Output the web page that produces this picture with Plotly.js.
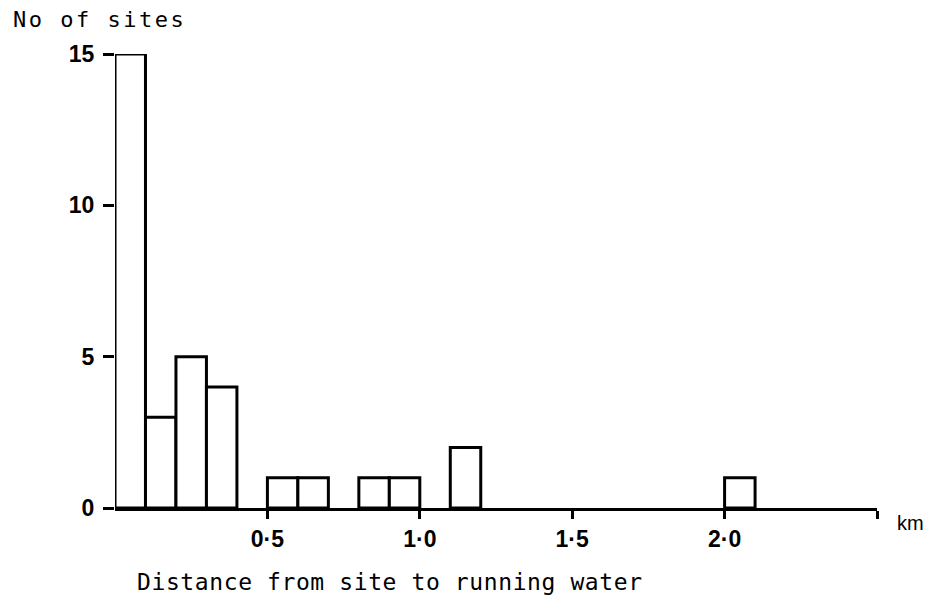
<!DOCTYPE html>
<html>
<head>
<meta charset="utf-8">
<script src="https://cdn.plot.ly/plotly-3.0.1.min.js"></script>
<style>html,body{margin:0;padding:0;background:#fff;}#chart{width:927px;height:602px;}</style>
</head>
<body>
<div id="chart"></div>
<script>
// Histogram bins (km, start of each 0.1 km bin) and number of sites
const binStarts = [0.0, 0.1, 0.2, 0.3, 0.5, 0.6, 0.8, 0.9, 1.1, 2.0];
const siteCounts = [15, 3, 5, 4, 1, 1, 1, 1, 2, 1];
const binWidth = 0.1;
const xTickVals = [0.5, 1.0, 1.5, 2.0, 2.5];
const xTickText = ['0·5', '1·0', '1·5', '2·0', ''];
const yTickVals = [0, 5, 10, 15];
const yTickText = ['0', '5', '10', '15'];

const centers = binStarts.map(s => s + binWidth / 2);

const trace = {
  type: 'bar',
  x: centers,
  y: siteCounts,
  width: binStarts.map(() => binWidth),
  marker: {color: '#ffffff', line: {color: '#000000', width: 3}},
  cliponaxis: false,
  hoverinfo: 'skip'
};

const tickFont = {family: 'Liberation Sans, Arial, sans-serif', size: 23, color: '#000', weight: 'bold'};

const layout = {
  width: 927, height: 602,
  margin: {l: 115, r: 50, t: 54, b: 94},
  paper_bgcolor: '#ffffff', plot_bgcolor: '#ffffff',
  showlegend: false,
  bargap: 0,
  xaxis: {
    range: [0, 2.5], fixedrange: true,
    showgrid: false, zeroline: false,
    showline: true, linecolor: '#000', linewidth: 3,
    tickmode: 'array', tickvals: xTickVals, ticktext: xTickText,
    ticks: 'outside', ticklen: 8, tickwidth: 3, tickcolor: '#000',
    tickfont: tickFont
  },
  yaxis: {
    range: [0, 15], fixedrange: true,
    showgrid: false, zeroline: false, showline: false,
    tickmode: 'array', tickvals: yTickVals, ticktext: yTickText,
    ticks: 'outside', ticklen: 11, tickwidth: 3, tickcolor: '#000',
    ticklabelstandoff: 4,
    tickfont: tickFont
  },
  annotations: [
    {text: '<span style="letter-spacing:2.5px">No of sites</span>', xref: 'paper', yref: 'paper', x: -0.136, y: 1.075,
     xanchor: 'left', yanchor: 'middle', showarrow: false,
     font: {family: 'DejaVu Sans Mono, monospace', size: 22, color: '#000'}},
    {text: '<span style="letter-spacing:0.6px">Distance from site to running water</span>', xref: 'paper', yref: 'paper', x: 0.026, y: -0.163,
     xanchor: 'left', yanchor: 'middle', showarrow: false,
     font: {family: 'DejaVu Sans Mono, monospace', size: 23, color: '#000'}},
    {text: 'km', xref: 'paper', yref: 'paper', x: 1.023, y: -0.033,
     xanchor: 'left', yanchor: 'middle', showarrow: false,
     font: {family: 'Liberation Sans, Arial, sans-serif', size: 20, color: '#000'}}
  ]
};

Plotly.newPlot('chart', [trace], layout, {displayModeBar: false, staticPlot: true});
</script>
</body>
</html>
